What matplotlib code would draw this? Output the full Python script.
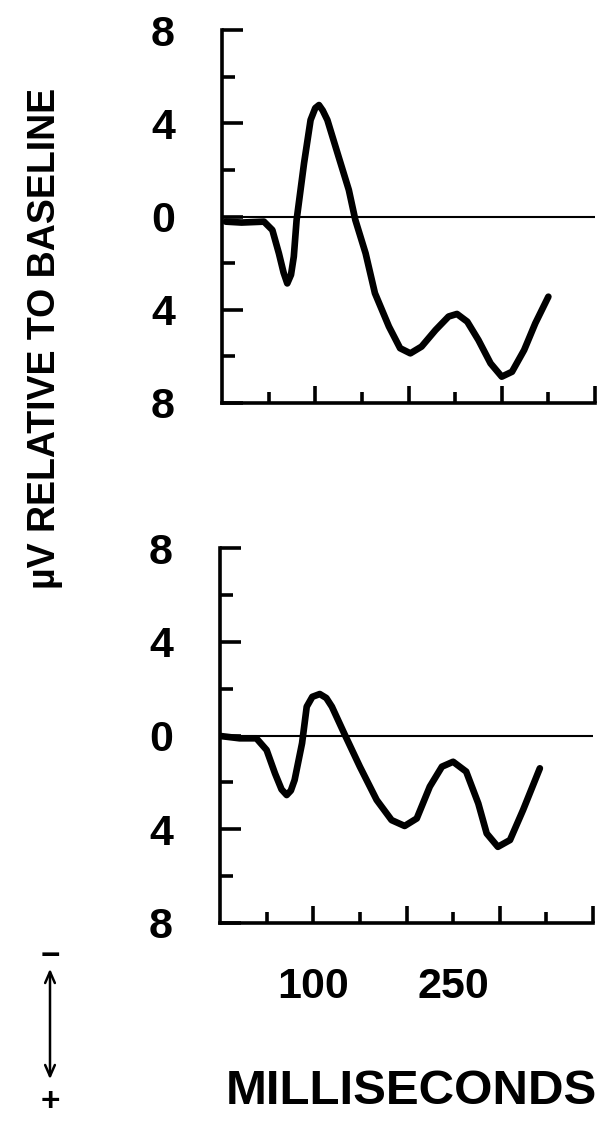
import matplotlib
matplotlib.use("Agg")
import matplotlib.pyplot as plt

# tempo (ms) e potencial (uV); negativo para cima, como no original
ms_top = [4, 21, 45, 54, 61, 66, 70, 74, 77, 80, 88, 95, 100, 104, 108, 113, 125, 136, 143, 154, 164,
          179, 191, 202, 214, 229, 243, 252, 263, 275, 288, 300, 311, 324, 336, 350]
uv_top = [0.22, 0.26, 0.22, 0.58, 1.58, 2.4, 2.87, 2.5, 1.72, 0.15, -2.29, -4.14, -4.65, -4.78, -4.55, -4.14, -2.57,
          -1.14, 0.15, 1.58, 3.29, 4.72, 5.65, 5.87, 5.58, 4.87, 4.29, 4.18, 4.51, 5.3, 6.3, 6.87, 6.66, 5.73, 4.58, 3.44]

ms_bot = [0, 21, 39, 50, 59, 66, 71.5, 76, 80, 88, 93, 99, 107, 114, 120, 134, 150, 168, 184, 198, 211,
          225, 238, 250, 264, 277, 286, 298, 311, 325, 343]
uv_bot = [0.02, 0.12, 0.12, 0.62, 1.62, 2.3, 2.54, 2.35, 1.9, 0.33, -1.23, -1.65, -1.77, -1.6, -1.23, -0.02, 1.33,
          2.75, 3.61, 3.86, 3.54, 2.18, 1.33, 1.12, 1.54, 2.9, 4.18, 4.75, 4.46, 3.18, 1.4]

yticks = [-8, -4, 0, 4, 8]
yticks_minor = [-6, -2, 2, 6]
xticks = [100, 200, 300, 400]
xticks_minor = [50, 150, 250, 350]
xlabels = ["100", "", "", ""]
xlabels_minor = ["", "", "250", ""]

plt.rcParams['font.family'] = ['Liberation Sans', 'DejaVu Sans']
plt.rcParams['font.weight'] = 'bold'

fig = plt.figure(figsize=(6.02, 11.31), dpi=100)
W, H = 602, 1131

ax1 = fig.add_axes([222 / W, (H - 403) / H, 373 / W, 373 / H])
ax2 = fig.add_axes([220 / W, (H - 923) / H, 373 / W, 375 / H])

for ax, ms, uv, com_rotulo in [(ax1, ms_top, uv_top, False), (ax2, ms_bot, uv_bot, True)]:
    ax.axhline(0, color='black', lw=1.5, zorder=1)
    ax.plot(ms, uv, color='black', lw=4.8, solid_capstyle='round', solid_joinstyle='round', zorder=2)
    ax.set_xlim(0, 400)
    ax.set_ylim(8, -8)
    ax.spines['top'].set_visible(False)
    ax.spines['right'].set_visible(False)
    for s in ['left', 'bottom']:
        ax.spines[s].set_linewidth(2.6)
        ax.spines[s].set_capstyle('projecting')
    ax.set_yticks(yticks, labels=[str(abs(v)) for v in yticks])
    ax.set_yticks(yticks_minor, minor=True)
    if com_rotulo:
        ax.set_xticks(xticks, labels=xlabels)
        ax.set_xticks(xticks_minor, labels=xlabels_minor, minor=True)
    else:
        ax.set_xticks(xticks, labels=[""] * 4)
        ax.set_xticks(xticks_minor, labels=[""] * 4, minor=True)
    ax.tick_params(axis='y', which='major', direction='in', length=15, width=2.6, pad=42.5, labelsize=31)
    ax.tick_params(axis='y', which='minor', direction='in', length=9, width=2.6)
    ax.tick_params(axis='x', which='major', direction='in', length=12, width=2.6, pad=32, labelsize=31)
    ax.tick_params(axis='x', which='minor', direction='in', length=8, width=2.6, pad=32, labelsize=31)
    for lab in ax.get_yticklabels():
        lab.set_horizontalalignment('center')

fig.text(45 / W, 1 - 338 / H, "µV RELATIVE TO BASELINE", rotation=90, ha='center', va='center',
         fontsize=27, fontweight='bold')
fig.text(411 / W, 1 - 1092 / H, "MILLISECONDS", ha='center', va='center', fontsize=35.5, fontweight='bold')

# seta de polaridade (- para cima, + para baixo)
fig.text(50 / W, 1 - 956 / H, "\u2212", ha='center', va='center', fontsize=24, fontweight='bold')
fig.text(50 / W, 1 - 1103 / H, "+", ha='center', va='center', fontsize=24, fontweight='bold')
fig.patches.append(matplotlib.patches.FancyArrowPatch((50 / W, 1 - 1082 / H), (50 / W, 1 - 966 / H),
                                                      transform=fig.transFigure, arrowstyle='<->,head_length=8,head_width=3.5',
                                                      color='black', lw=1.8))

fig.savefig("out.png", dpi=100, facecolor='white')
